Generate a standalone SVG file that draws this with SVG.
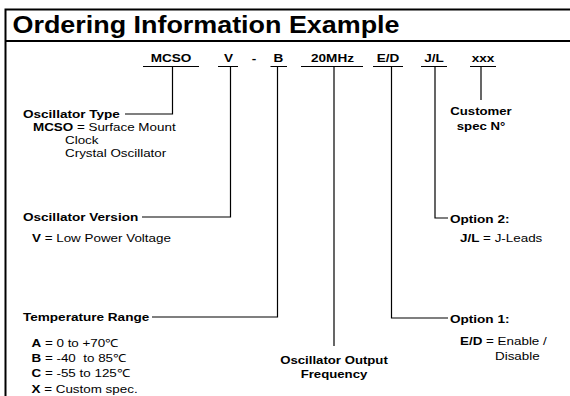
<svg xmlns="http://www.w3.org/2000/svg" width="570" height="396" viewBox="0 0 570 396">
<style>
text{font-family:"Liberation Sans",Arial,sans-serif;fill:#000}
.t{font-size:23px;font-weight:bold}
.c{font-size:11.5px;font-weight:bold;text-anchor:middle}
.l{font-size:11.3px;font-weight:bold}
.lm{font-size:11px;font-weight:bold;text-anchor:middle}
.d{font-size:11px}
.b{font-weight:bold}
.frame{stroke:#000;stroke-width:2;fill:none}
.ln{stroke:#000;stroke-width:1.2;fill:none}
</style>
<g id="frame">
<path class="frame" d="M5.5,396 V9.5 H570 M5.5,41 H570"/>
<text class="t" transform="translate(12.5 33) scale(1.17 1)">Ordering Information Example</text>
</g>
<g id="code">
<text class="c" transform="translate(171 62) scale(1.18 1)">MCSO</text>
<text class="c" transform="translate(228.5 62) scale(1.18 1)">V</text>
<text class="c" transform="translate(254 62) scale(1.18 1)">-</text>
<text class="c" transform="translate(278.5 62) scale(1.18 1)">B</text>
<text class="c" transform="translate(332.5 62) scale(1.18 1)">20MHz</text>
<text class="c" transform="translate(388 62) scale(1.18 1)">E/D</text>
<text class="c" transform="translate(434 62) scale(1.18 1)">J/L</text>
<text class="c" transform="translate(483 62) scale(1.18 1)">xxx</text>
<path class="ln" d="M143,66.5 H199 M218,66.5 H238 M270.5,66.5 H287 M301,66.5 H363 M373,66.5 H403 M421,66.5 H447 M470,66.5 H496"/>
</g>
<g id="connectors">
<path class="ln" d="M172.5,66.5 V114 H125"/>
<path class="ln" d="M230.5,66.5 V217 H142"/>
<path class="ln" d="M277.5,66.5 V317 H152"/>
<path class="ln" d="M334,66.5 V346"/>
<path class="ln" d="M391.5,66.5 V318 H448"/>
<path class="ln" d="M435,66.5 V218 H448"/>
<path class="ln" d="M481,66.5 V100"/>
</g>
<g id="osc-type">
<text class="l" transform="translate(23 118) scale(1.2 1)">Oscillator Type</text>
<text class="d" transform="translate(33 130.5) scale(1.22 1)"><tspan class="b">MCSO</tspan> = Surface Mount</text>
<text class="d" transform="translate(65 143.5) scale(1.22 1)">Clock</text>
<text class="d" transform="translate(65 157) scale(1.22 1)">Crystal Oscillator</text>
</g>
<g id="osc-version">
<text class="l" transform="translate(23 221) scale(1.2 1)">Oscillator Version</text>
<text class="d" transform="translate(32 242) scale(1.22 1)"><tspan class="b">V</tspan> = Low Power Voltage</text>
</g>
<g id="temp-range">
<text class="l" transform="translate(23 321) scale(1.2 1)">Temperature Range</text>
<text class="d" transform="translate(31.5 347) scale(1.22 1)"><tspan class="b">A</tspan> = 0 to +70℃</text>
<text class="d" transform="translate(31.5 362) scale(1.22 1)"><tspan class="b">B</tspan> = -40 &#160;to 85℃</text>
<text class="d" transform="translate(31.5 377) scale(1.22 1)"><tspan class="b">C</tspan> = -55 to 125℃</text>
<text class="d" transform="translate(31.5 392.5) scale(1.22 1)"><tspan class="b">X</tspan> = Custom spec.</text>
</g>
<g id="frequency">
<text class="lm" transform="translate(334 364) scale(1.2 1)">Oscillator Output</text>
<text class="lm" transform="translate(334 377.5) scale(1.2 1)">Frequency</text>
</g>
<g id="option1">
<text class="l" transform="translate(450 322.5) scale(1.2 1)">Option 1:</text>
<text class="d" transform="translate(460 345) scale(1.22 1)"><tspan class="b">E/D</tspan> = Enable /</text>
<text class="d" transform="translate(495 360) scale(1.22 1)">Disable</text>
</g>
<g id="option2">
<text class="l" transform="translate(450 222.5) scale(1.2 1)">Option 2:</text>
<text class="d" transform="translate(460 242) scale(1.22 1)"><tspan class="b">J/L</tspan> = J-Leads</text>
</g>
<g id="customer">
<text class="lm" transform="translate(481 115) scale(1.2 1)">Customer</text>
<text class="lm" transform="translate(481 130) scale(1.2 1)">spec N°</text>
</g>
</svg>
